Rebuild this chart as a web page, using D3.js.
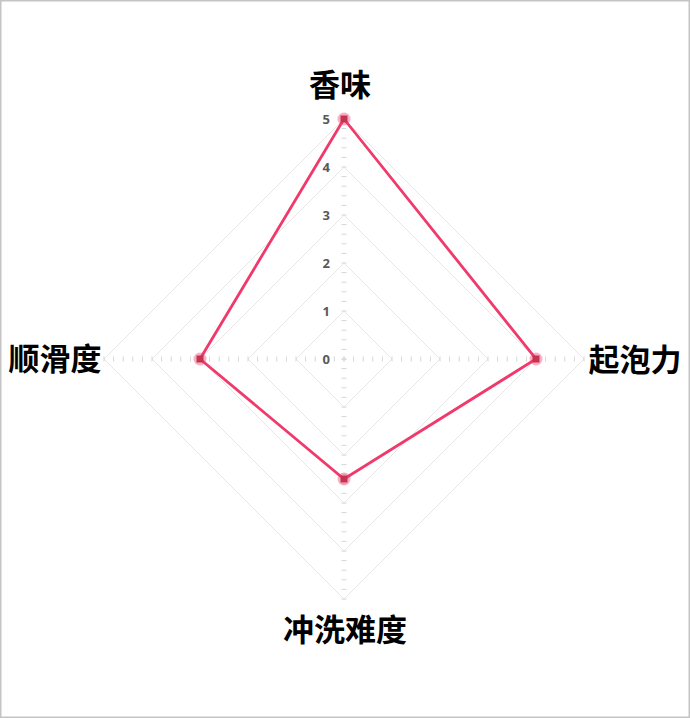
<!DOCTYPE html>
<html>
<head>
<meta charset="utf-8">
<script src="https://cdn.jsdelivr.net/npm/d3@7/dist/d3.min.js"></script>
<style>
  html, body { margin: 0; padding: 0; background: #fff; }
  #chart { width: 690px; height: 718px; }
</style>
</head>
<body>
<div id="chart"></div>
<script>
// axes, clockwise from the top
var categories = ["香味", "起泡力", "冲洗难度", "顺滑度"];
var values = [5, 4, 2.5, 3];
var tickLabels = [0, 1, 2, 3, 4, 5];

var width = 690, height = 718,
  cx = 344, cy = 359, radius = 240;

var svg = d3.select("#chart").append("svg")
  .attr("width", width)
  .attr("height", height);

// outer frame
svg.append("rect")
  .attr("x", 0.75).attr("y", 0.75)
  .attr("width", width - 1.5).attr("height", height - 1.5)
  .attr("fill", "none")
  .attr("stroke", "#c4c4c4")
  .attr("stroke-width", 1.5);

var g = svg.append("g").attr("transform", "translate(" + cx + "," + cy + ")");

var r = d3.scaleLinear().domain([0, 5]).range([0, radius]);
var angle = d3.scalePoint().domain(categories).range([0, 2 * Math.PI * (categories.length - 1) / categories.length]);

function pt(cat, v) {
  var a = angle(cat) - Math.PI / 2;
  return [r(v) * Math.cos(a), r(v) * Math.sin(a)];
}

// grid diamonds
var lineClosed = d3.line().curve(d3.curveLinearClosed);
g.selectAll(".grid")
  .data(tickLabels.slice(1))
  .enter()
  .append("path")
  .attr("class", "grid")
  .attr("d", function (t) {
    return lineClosed(categories.map(function (c) { return pt(c, t); }));
  })
  .attr("fill", "none")
  .attr("stroke", "#e6e6e6")
  .attr("stroke-width", 1);

// minor tick marks on each spoke (every 0.2)
var minor = d3.range(0, 5.001, 0.2);
categories.forEach(function (c) {
  var a = angle(c) - Math.PI / 2;
  var px = -Math.sin(a), py = Math.cos(a);
  g.append("g").selectAll("line")
    .data(minor)
    .enter()
    .append("line")
    .attr("x1", function (v) { return pt(c, v)[0] - px * 2.5; })
    .attr("y1", function (v) { return pt(c, v)[1] - py * 2.5; })
    .attr("x2", function (v) { return pt(c, v)[0] + px * 2.5; })
    .attr("y2", function (v) { return pt(c, v)[1] + py * 2.5; })
    .attr("stroke", "#d6d6d6")
    .attr("stroke-width", 1);
});

// tick numbers on the top spoke
g.selectAll(".tick-label")
  .data(tickLabels)
  .enter()
  .append("text")
  .attr("class", "tick-label")
  .attr("x", -14)
  .attr("y", function (t) { return -r(t); })
  .attr("dy", "0.35em")
  .attr("text-anchor", "end")
  .style("font-family", "'Open Sans', 'Noto Sans', sans-serif")
  .style("font-weight", "bold")
  .style("font-size", "13px")
  .style("fill", "#595959")
  .text(function (t) { return t; });

// category labels
var labelPos = {
  "香味": { x: -4, y: -274 },
  "起泡力": { x: 291, y: 1 },
  "冲洗难度": { x: 1, y: 271 },
  "顺滑度": { x: -289, y: 0 }
};
g.selectAll(".cat")
  .data(categories)
  .enter()
  .append("text")
  .attr("class", "cat")
  .attr("x", function (c) { return labelPos[c].x; })
  .attr("y", function (c) { return labelPos[c].y; })
  .attr("dy", "0.35em")
  .attr("text-anchor", "middle")
  .style("font-family", "'Noto Sans CJK SC', sans-serif")
  .style("font-weight", "bold")
  .style("font-size", "31px")
  .style("fill", "#000")
  .text(function (c) { return c; });

// data polygon
var pts = categories.map(function (c, i) { return pt(c, values[i]); });
g.append("path")
  .attr("d", lineClosed(pts))
  .attr("fill", "none")
  .attr("stroke", "#f03a6c")
  .attr("stroke-width", 2.8)
  .attr("stroke-linejoin", "miter");

var marks = g.selectAll(".mark")
  .data(pts)
  .enter()
  .append("g")
  .attr("class", "mark")
  .attr("transform", function (p) { return "translate(" + p[0] + "," + p[1] + ")"; });
marks.append("circle")
  .attr("r", 6.5)
  .attr("fill", "#f03a6c")
  .attr("fill-opacity", 0.4);
marks.append("rect")
  .attr("x", -3.5).attr("y", -3.5)
  .attr("width", 7).attr("height", 7)
  .attr("fill", "#c43452");
</script>
</body>
</html>
